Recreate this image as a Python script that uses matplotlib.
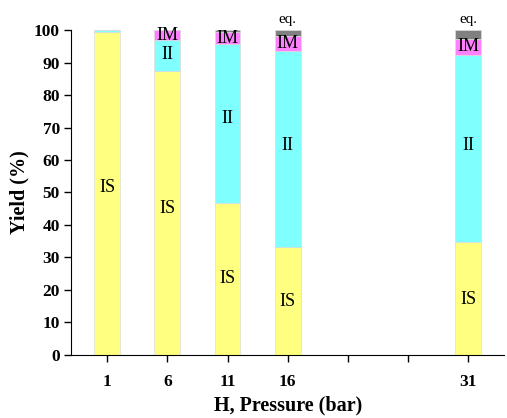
import matplotlib
matplotlib.use("Agg")
import matplotlib.pyplot as plt
import numpy as np

pressures = [1, 6, 11, 16, 31]
IS = [99.5, 87.5, 46.7, 33.1, 34.8]
II = [0.5, 9.4, 48.9, 60.4, 57.5]
IM = [0.0, 3.1, 3.7, 4.7, 5.0]
EQ = [0.0, 0.0, 0.7, 1.8, 2.7]
series = [("IS", IS, "#FFFF80"), ("II", II, "#80FFFF"), ("IM", IM, "#FF80FF"), ("eq.", EQ, "#808080")]
xticks = [1, 6, 11, 16, 21, 26, 31]
xticklabels = ["1", "6", "11", "16", "", "", "31"]

plt.rcParams['font.family'] = ['Liberation Serif', 'DejaVu Serif']

fig = plt.figure(figsize=(5.07, 4.18), dpi=100)
ax = fig.add_axes([0.14, 0.151, 0.855, 0.777])

width = 2.15
bottom = np.zeros(len(pressures))
for name, vals, color in series:
    vals = np.array(vals)
    ax.bar(pressures, vals, width=width, bottom=bottom, color=color,
           edgecolor="#dcdcdc", linewidth=0.5)
    for x, b, v in zip(pressures, bottom, vals):
        if name == "eq.":
            if v > 0.5 and x != 11:
                ax.text(x, b + v + 1.3, "eq.", ha="center", va="bottom", fontsize=11)
        elif name == "IM":
            if v > 2:
                ax.text(x, b + v / 2, "IM", ha="center", va="center", fontsize=13)
        elif v > 5:
            yoff = {"IS": [1.7, 1.2, 0.3, -0.2, -0.4], "II": [0, 0.4, 1.5, 1.3, 0.8]}[name][pressures.index(x)]
            ax.text(x, b + v / 2 + yoff, name, ha="center", va="center", fontsize=13)
    bottom = bottom + vals

ax.set_xlim(-2, 34)
ax.set_ylim(0, 100)
ax.set_yticks(range(0, 101, 10))
ax.set_xticks(xticks)
ax.set_xticklabels(xticklabels)
for lab in ax.get_xticklabels() + ax.get_yticklabels():
    lab.set_fontweight("bold")
    lab.set_fontsize(12.5)
ax.tick_params(direction="out", length=5, width=1, pad=3)
ax.tick_params(axis="x", pad=9)
ax.spines["top"].set_visible(False)
ax.spines["right"].set_visible(False)
ax.set_ylabel("Yield (%)", fontsize=14.5, fontweight="bold", labelpad=3)
ax.set_xlabel("H, Pressure (bar)", fontsize=14.5, fontweight="bold", labelpad=4)

fig.savefig("out.png", dpi=100)
